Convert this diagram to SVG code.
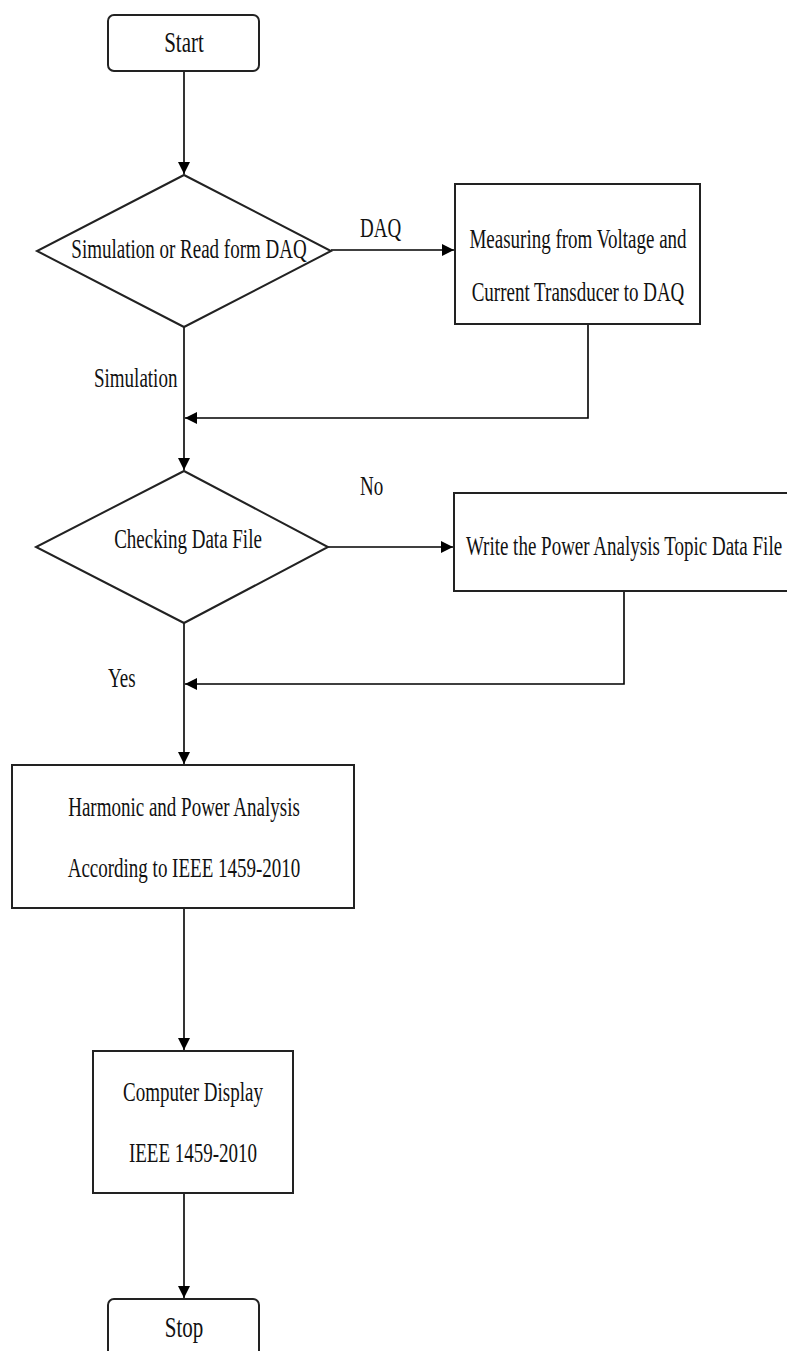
<svg xmlns="http://www.w3.org/2000/svg" width="787" height="1351" viewBox="0 0 787 1351">
<style>
.shape{fill:#fff;stroke:#222;stroke-width:2}
.conn{fill:none;stroke:#000;stroke-width:1.6}
.t{font-family:"Liberation Serif","Times New Roman",serif;font-size:19px;fill:#111;text-anchor:middle}
.tl{font-family:"Liberation Serif","Times New Roman",serif;font-size:19px;fill:#111;text-anchor:start}
.big{font-size:21px}
</style>
<defs>
<marker id="arr" markerUnits="userSpaceOnUse" markerWidth="13" markerHeight="13" refX="12" refY="6" orient="auto">
<path d="M0,0 L12,6 L0,12 Z" fill="#000"/>
</marker>
</defs>
<rect width="787" height="1351" fill="#fff"/>
<g id="connectors">
<path class="conn" d="M184,71 V174" marker-end="url(#arr)"/>
<path class="conn" d="M331,250 H454" marker-end="url(#arr)"/>
<path class="conn" d="M588,324 V418 H185" marker-end="url(#arr)"/>
<path class="conn" d="M184,327 V470" marker-end="url(#arr)"/>
<path class="conn" d="M328,547 H453" marker-end="url(#arr)"/>
<path class="conn" d="M624,591 V684 H185" marker-end="url(#arr)"/>
<path class="conn" d="M184,623 V764" marker-end="url(#arr)"/>
<path class="conn" d="M184,908 V1050" marker-end="url(#arr)"/>
<path class="conn" d="M184,1193 V1298" marker-end="url(#arr)"/>
</g>
<g id="labels">
<text class="tl" transform="translate(360,237) scale(1,1.4)">DAQ</text>
<text class="tl" transform="translate(94,387) scale(1,1.4)">Simulation</text>
<text class="tl" transform="translate(360,495) scale(1,1.4)">No</text>
<text class="tl" transform="translate(108,687) scale(1,1.4)">Yes</text>
</g>
<g id="start">
<rect class="shape" x="108" y="15" width="151" height="56" rx="6"/>
<text class="t big" transform="translate(184,52) scale(1,1.4)">Start</text>
</g>
<g id="decision1">
<polygon class="shape" points="184,175 331,251 184,327 37,251"/>
<text class="t" transform="translate(189,258) scale(1,1.4)">Simulation or Read form DAQ</text>
</g>
<g id="measure">
<rect class="shape" x="455" y="184" width="245" height="140"/>
<text class="t" transform="translate(578,248) scale(1,1.4)">Measuring from Voltage and</text>
<text class="t" transform="translate(578,301) scale(1,1.4)">Current Transducer to DAQ</text>
</g>
<g id="decision2">
<polygon class="shape" points="184,471 328,547 184,623 36,547"/>
<text class="t" transform="translate(188,548) scale(1,1.4)">Checking Data File</text>
</g>
<g id="write">
<rect class="shape" x="454" y="493" width="340" height="98"/>
<text class="t" transform="translate(624,555) scale(1,1.4)">Write the Power Analysis Topic Data File</text>
</g>
<g id="analysis">
<rect class="shape" x="12" y="765" width="342" height="143"/>
<text class="t" transform="translate(184,816) scale(1,1.4)">Harmonic and Power Analysis</text>
<text class="t" transform="translate(184,877) scale(1,1.4)">According to IEEE 1459-2010</text>
</g>
<g id="display">
<rect class="shape" x="93" y="1051" width="200" height="142"/>
<text class="t" transform="translate(193,1101) scale(1,1.4)">Computer Display</text>
<text class="t" transform="translate(193,1162) scale(1,1.4)">IEEE 1459-2010</text>
</g>
<g id="stop">
<rect class="shape" x="108" y="1299" width="151" height="60" rx="6"/>
<text class="t big" transform="translate(184,1337) scale(1,1.4)">Stop</text>
</g>
</svg>
